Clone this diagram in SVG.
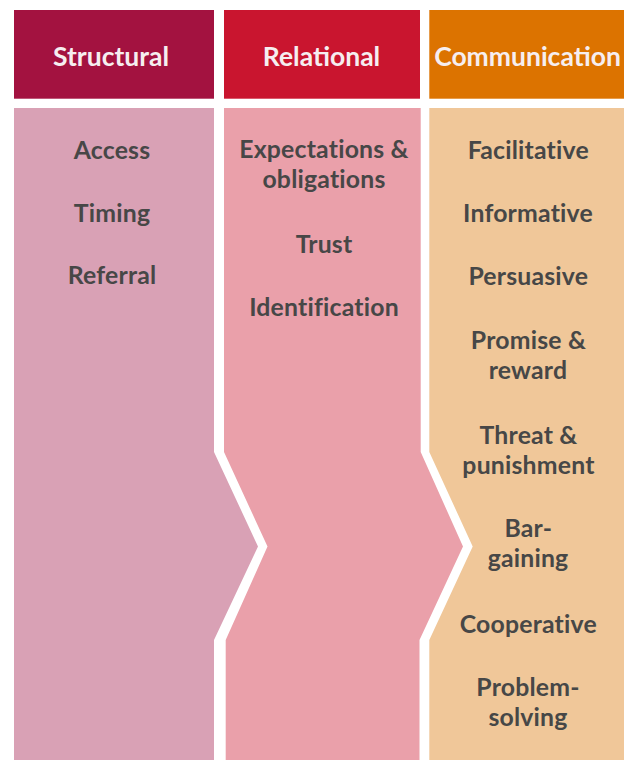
<svg xmlns="http://www.w3.org/2000/svg" width="624" height="760" viewBox="0 0 624 760">
  <style>
    .hd { font-family: Lato, "Noto Sans", "DejaVu Sans", sans-serif; font-weight: 700; font-size: 26.5px; fill: #F6EEF0; text-anchor: middle; }
    .it { font-family: Lato, "Noto Sans", "DejaVu Sans", sans-serif; font-weight: 700; font-size: 24.8px; fill: #474747; text-anchor: middle; letter-spacing: 0.2px; }
  </style>
  <rect x="0" y="0" width="624" height="760" fill="#FFFFFF"/>
  <g id="structural">
    <rect x="14" y="10" width="200" height="88.7" fill="#A31240"/>
    <text class="hd" x="111" y="65.7">Structural</text>
    <polygon points="14,108 214,108 214,452 258,546.5 214,640 214,760 14,760" fill="#D9A1B5"/>
    <text class="it" x="112" y="159">Access</text>
    <text class="it" x="112" y="221.5">Timing</text>
    <text class="it" x="112" y="284.3">Referral</text>
  </g>
  <g id="relational">
    <rect x="224" y="10" width="196" height="88.7" fill="#C9152F"/>
    <text class="hd" x="321.5" y="65.7">Relational</text>
    <polygon points="224,108 420.7,108 420.7,452 463,546.5 419.5,640 419.5,760 225.7,760 225.7,640 267.5,546.5 224,452" fill="#EAA0AA"/>
    <text class="it" x="324" y="157.7">Expectations &amp;</text>
    <text class="it" x="324" y="188.3">obligations</text>
    <text class="it" x="324" y="253.3">Trust</text>
    <text class="it" x="324" y="315.7">Identification</text>
  </g>
  <g id="communication">
    <rect x="429.3" y="10" width="194.7" height="88.7" fill="#DC7300"/>
    <text class="hd" x="527.5" y="65.7">Communication</text>
    <polygon points="429.3,108 624,108 624,760 429.3,760 429.3,640 472.7,546.5 429.3,452" fill="#F0C799"/>
    <text class="it" x="528.3" y="159">Facilitative</text>
    <text class="it" x="528" y="221.7">Informative</text>
    <text class="it" x="528.3" y="284.7">Persuasive</text>
    <text class="it" x="528.5" y="349">Promise &amp;</text>
    <text class="it" x="528" y="379">reward</text>
    <text class="it" x="528.5" y="444">Threat &amp;</text>
    <text class="it" x="528.5" y="474">punishment</text>
    <text class="it" x="528.3" y="536.7">Bar-</text>
    <text class="it" x="528" y="567.3">gaining</text>
    <text class="it" x="528.3" y="632.7">Cooperative</text>
    <text class="it" x="528" y="696">Problem-</text>
    <text class="it" x="528" y="726">solving</text>
  </g>
  <g id="connectors"></g>
</svg>
